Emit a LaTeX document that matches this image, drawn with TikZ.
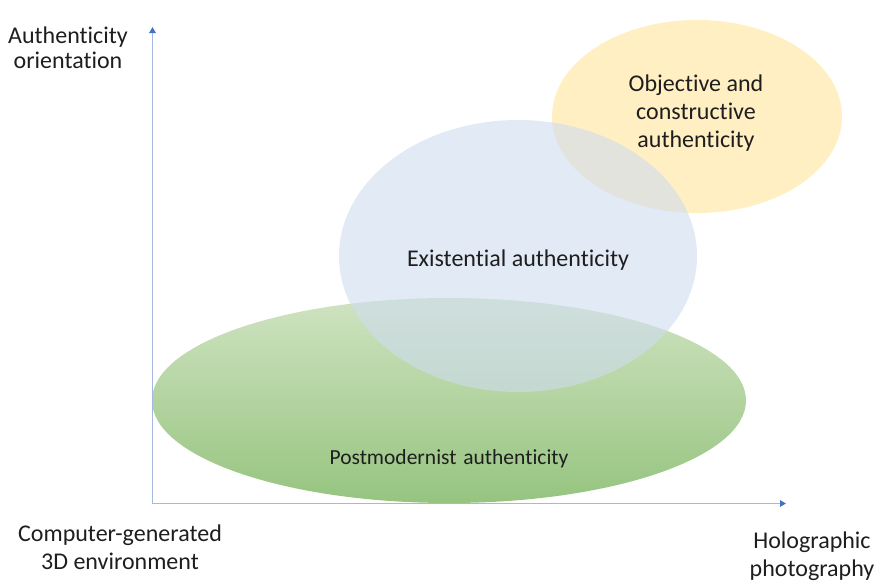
\documentclass[tikz,border=0pt]{standalone}
\usepackage{fontspec}
\setmainfont{Carlito}[Ligatures=NoCommon]
\usetikzlibrary{arrows.meta,shapes.geometric}

\definecolor{axisblue}{HTML}{A6B7E0}
\definecolor{tipblue}{HTML}{4472C4}
\definecolor{greentop}{HTML}{CFE3C1}
\definecolor{greenbot}{HTML}{96C47F}
\definecolor{bluefill}{HTML}{CFDCF0}
\definecolor{orangefill}{HTML}{FFE59A}
\definecolor{ink}{HTML}{1E1E1E}

\tikzset{
  axisline/.style={draw=axisblue, line width=1.3pt,
    -{Triangle[width=6.5pt,length=6pt,color=tipblue]}},
  blob/.style={ellipse, inner sep=0pt, draw=none},
  lbl/.style={font=\fontsize{24}{28}\selectfont, text=ink, align=center, inner sep=0pt, anchor=base},
  smalllbl/.style={font=\fontsize{21.5}{26}\selectfont, text=ink, inner sep=0pt, anchor=base}
}

\begin{document}
\begin{tikzpicture}[x=1pt, y=-1pt]
  \path[use as bounding box] (0,0) rectangle (880,584);

  % overlapping regions
  \node[blob, minimum width=594pt, minimum height=205pt,
        top color=greentop, bottom color=greenbot] (post) at (449,400.5) {};
  \node[blob, minimum width=290pt, minimum height=193pt,
        fill=orangefill, fill opacity=0.6] (obj) at (697,116.5) {};
  \node[blob, minimum width=358pt, minimum height=272pt,
        fill=bluefill, fill opacity=0.6] (exist) at (518,256) {};

  % axes
  \coordinate (origin) at (152.5,503.5);
  \coordinate (ytip) at (152.5,27);
  \coordinate (xtip) at (786,503.5);
  \draw[axisline] ([yshift=-0.65pt]origin) -- (ytip);
  \draw[axisline] ([xshift=-0.65pt]origin) -- (xtip);

  % region labels (base anchor sits on the last line)
  \node[lbl] (objtxt) at (696,147) {Objective and\\constructive\\authenticity};
  \node[lbl] (existtxt) at (518,266) {Existential authenticity};
  \node[smalllbl] (posttxt) at (449,464) {Postmodernist\hspace{2pt} authenticity};

  % axis labels
  \node[lbl, font=\fontsize{24}{25.5}\selectfont] (ylabel) at (68,68.5) {Authenticity\\orientation};
  \node[lbl] (xlow) at (120,569) {Computer-generated\\3D environment};
  \node[lbl] (xhigh) at (812,576) {Holographic\\photography};
\end{tikzpicture}
\end{document}
